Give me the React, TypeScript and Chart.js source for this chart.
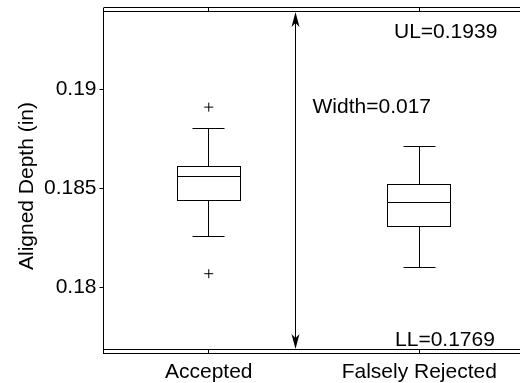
import React, { useEffect, useRef } from "react";
import { Chart, registerables } from "chart.js";

Chart.register(...registerables);

// ---- data ----
const categories = ["Accepted", "Falsely Rejected"];
const categoryX = [1, 2];
const whiskerLow = [0.1826, 0.181];
const q1 = [0.1844, 0.1831];
const median = [0.1856, 0.1843];
const q3 = [0.1861, 0.1852];
const whiskerHigh = [0.188, 0.1871];
const outlierX = [1, 1];
const outlierY = [0.1891, 0.1807];
const UL = 0.1939;
const LL = 0.1769;
const yTicks = [0.18, 0.185, 0.19];
const yTickLabels = ["0.18", "0.185", "0.19"];
const yMin = 0.1767;
const yMax = 0.1941;
const yTitle = "Aligned Depth (in)";

const FONT = "'Liberation Sans', Arial, Helvetica, sans-serif";
const FS = 21;

const boxPlugin = {
  id: "boxPlugin",
  beforeDatasetsDraw(chart: any) {
    const { ctx, chartArea } = chart;
    const xs = chart.scales.x;
    const ys = chart.scales.y;
    const a = (v: number) => Math.round(v - 0.5) + 0.5;
    ctx.save();
    ctx.beginPath();
    ctx.rect(chartArea.left, chartArea.top, chartArea.right - chartArea.left, chartArea.bottom - chartArea.top);
    ctx.clip();
    ctx.strokeStyle = "#000";
    ctx.lineWidth = 1;

    // UL / LL lines
    [UL, LL].forEach((v) => {
      const y = a(ys.getPixelForValue(v));
      ctx.beginPath();
      ctx.moveTo(chartArea.left, y);
      ctx.lineTo(chartArea.right, y);
      ctx.stroke();
    });

    // boxes
    for (let i = 0; i < categories.length; i++) {
      const c = categoryX[i];
      const xl = a(xs.getPixelForValue(c - 0.15));
      const xr = a(xs.getPixelForValue(c + 0.15));
      const xc = a(xs.getPixelForValue(c));
      const cl = a(xs.getPixelForValue(c - 0.075));
      const cr = a(xs.getPixelForValue(c + 0.075));
      const yq1 = a(ys.getPixelForValue(q1[i]));
      const yq3 = a(ys.getPixelForValue(q3[i]));
      const ym = a(ys.getPixelForValue(median[i]));
      const ywl = a(ys.getPixelForValue(whiskerLow[i]));
      const ywh = a(ys.getPixelForValue(whiskerHigh[i]));
      ctx.beginPath();
      ctx.moveTo(xc, yq3);
      ctx.lineTo(xc, ywh);
      ctx.moveTo(cl, ywh);
      ctx.lineTo(cr, ywh);
      ctx.moveTo(xc, yq1);
      ctx.lineTo(xc, ywl);
      ctx.moveTo(cl, ywl);
      ctx.lineTo(cr, ywl);
      ctx.stroke();
      ctx.fillStyle = "#fff";
      ctx.fillRect(xl, yq3, xr - xl, yq1 - yq3);
      ctx.strokeRect(xl, yq3, xr - xl, yq1 - yq3);
      ctx.beginPath();
      ctx.moveTo(xl, ym);
      ctx.lineTo(xr, ym);
      ctx.stroke();
    }

    // arrow
    const ax = a(xs.getPixelForValue(1.41));
    const yT = ys.getPixelForValue(UL);
    const yB = ys.getPixelForValue(LL);
    ctx.beginPath();
    ctx.moveTo(ax, yT + 4);
    ctx.lineTo(ax, yB - 4);
    ctx.stroke();
    ctx.fillStyle = "#000";
    ctx.beginPath();
    ctx.moveTo(ax, yT);
    ctx.lineTo(ax - 4, yT + 15);
    ctx.lineTo(ax, yT + 11);
    ctx.lineTo(ax + 4, yT + 15);
    ctx.closePath();
    ctx.fill();
    ctx.beginPath();
    ctx.moveTo(ax, yB);
    ctx.lineTo(ax - 4, yB - 15);
    ctx.lineTo(ax, yB - 11);
    ctx.lineTo(ax + 4, yB - 15);
    ctx.closePath();
    ctx.fill();

    // texts
    ctx.font = `${FS}px ${FONT}`;
    ctx.fillStyle = "#000";
    ctx.textAlign = "left";
    ctx.textBaseline = "alphabetic";
    ctx.fillText(`UL=${UL}`, xs.getPixelForValue(1.88), yT + 26);
    ctx.fillText(`LL=${LL}`, xs.getPixelForValue(1.885), yB - 3);
    ctx.fillText(`Width=${(UL - LL).toFixed(3)}`, xs.getPixelForValue(1.493), ys.getPixelForValue(0.18882));
    ctx.restore();
  },
  afterDraw(chart: any) {
    const { ctx, chartArea } = chart;
    const xs = chart.scales.x;
    ctx.save();
    ctx.strokeStyle = "#000";
    ctx.lineWidth = 1;
    ctx.beginPath();
    ctx.moveTo(chartArea.left, chartArea.top - 0.5);
    ctx.lineTo(chartArea.right, chartArea.top - 0.5);
    ctx.stroke();
    categoryX.forEach((c) => {
      const x = Math.round(xs.getPixelForValue(c) - 0.5) + 0.5;
      ctx.beginPath();
      ctx.moveTo(x, chartArea.top);
      ctx.lineTo(x, chartArea.top + 4);
      ctx.moveTo(x, chartArea.bottom);
      ctx.lineTo(x, chartArea.bottom - 4);
      ctx.stroke();
    });
    ctx.font = `${FS}px ${FONT}`;
    ctx.fillStyle = "#000";
    ctx.translate(33, 186);
    ctx.rotate(-Math.PI / 2);
    ctx.textAlign = "center";
    ctx.textBaseline = "alphabetic";
    ctx.fillText(yTitle, 0, 0);
    ctx.restore();
  },
};

export default function App() {
  const ref = useRef<HTMLCanvasElement>(null);
  useEffect(() => {
    Chart.defaults.font.family = FONT;
    const chart = new Chart(ref.current as HTMLCanvasElement, {
      type: "scatter",
      data: {
        datasets: [
          {
            data: outlierX.map((x, i) => ({ x, y: outlierY[i] })),
            pointStyle: "cross",
            pointRadius: 4.5,
            borderColor: "#000",
            backgroundColor: "#000",
            borderWidth: 1,
          },
        ],
      },
      options: {
        responsive: false,
        animation: false,
        devicePixelRatio: 1,
        events: [],
        layout: { padding: { top: 8, right: 4.5, left: 0, bottom: 0 } },
        plugins: { legend: { display: false }, tooltip: { enabled: false } },
        scales: {
          x: {
            type: "linear",
            min: 0.5,
            max: 2.5,
            afterBuildTicks: (s: any) => {
              s.ticks = categoryX.map((v) => ({ value: v }));
            },
            afterFit: (s: any) => {
              s.height = 30;
              s.paddingLeft = 0;
              s.paddingRight = 0;
            },
            ticks: {
              callback: (_v: any, i: number) => categories[i],
              color: "#000",
              font: { size: FS, family: FONT },
              padding: 7,
              autoSkip: false,
              maxRotation: 0,
            },
            grid: { display: false, drawTicks: false },
            border: { display: true, color: "#000", width: 1 },
          },
          y: {
            type: "linear",
            min: yMin,
            max: yMax,
            afterBuildTicks: (s: any) => {
              s.ticks = yTicks.map((v) => ({ value: v }));
            },
            afterFit: (s: any) => {
              s.width = 103.5;
              s.paddingTop = 0;
              s.paddingBottom = 0;
            },
            ticks: {
              callback: (_v: any, i: number) => yTickLabels[i],
              color: "#000",
              font: { size: FS, family: FONT },
              padding: 3,
              autoSkip: false,
            },
            grid: {
              display: true,
              drawOnChartArea: false,
              drawTicks: true,
              tickLength: 4,
              color: "#000",
            },
            border: { display: true, color: "#000", width: 1 },
          },
        },
      },
      plugins: [boxPlugin],
    });
    return () => chart.destroy();
  }, []);
  return (
    <div
      style={{
        position: "fixed",
        left: 0,
        top: 0,
        width: 520,
        height: 383,
        overflow: "hidden",
        background: "#fff",
      }}
    >
      <div style={{ width: 530, height: 383 }}>
        <canvas ref={ref} width={530} height={383} style={{ display: "block", width: 530, height: 383 }} />
      </div>
    </div>
  );
}
